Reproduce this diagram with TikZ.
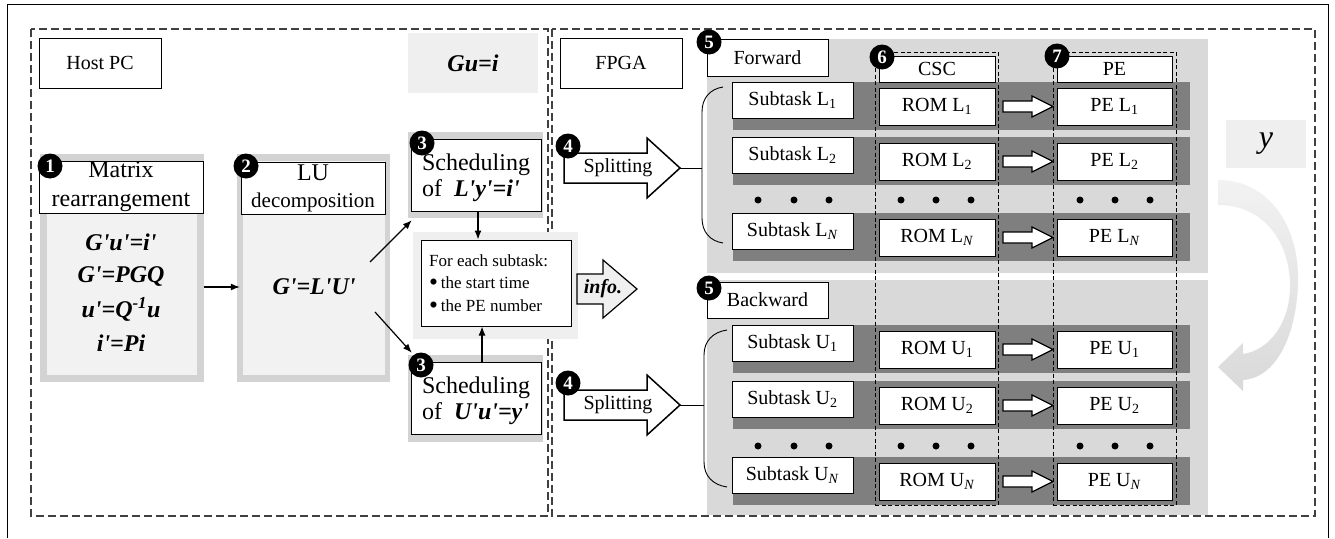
\documentclass[tikz,border=0pt]{standalone}
\usepackage{fontspec}
\setmainfont{Liberation Serif}
\usetikzlibrary{arrows.meta,calc}
\definecolor{panel}{HTML}{D9D9D9}
\definecolor{strip}{HTML}{7F7F7F}
\definecolor{shell}{HTML}{D3D3D3}
\definecolor{innerc}{HTML}{F2F2F2}
\definecolor{soft}{HTML}{EFEFEF}
\definecolor{dashc}{HTML}{404040}
\newcommand\bi[1]{\textbf{\textit{#1}}}
\newcommand\pr{\textquotesingle}
\newcommand\bul{\raisebox{-2pt}[0pt][0pt]{\scalebox{1.5}{\textbullet}}}
% block arrow: options, x0, x1, xhead, yc, half body, half head
\newcommand\blockarr[7]{\draw[#1] (#2,{#5-#6}) -- (#4,{#5-#6}) -- (#4,{#5-#7}) -- (#3,#5) -- (#4,{#5+#7}) -- (#4,{#5+#6}) -- (#2,{#5+#6}) -- cycle;}
\tikzset{
  wbox/.style={draw, fill=white, line width=1pt, inner sep=0pt, align=center},
  flat/.style={inner sep=0pt, draw=none},
  num/.style={circle, fill=black, text=white, minimum size=25pt, inner sep=0pt, font=\fontsize{19}{19}\selectfont\bfseries},
  region/.style={draw=dashc, line width=1.3pt, dash pattern=on 8pt off 4pt},
  colbox/.style={draw=black, line width=0.8pt, dash pattern=on 4pt off 2.5pt, inner sep=0pt},
  arr/.style={line width=1.2pt, -{Latex[length=9pt,width=7pt]}},
  f20/.style={font=\fontsize{20}{24}\selectfont},
  f24/.style={font=\fontsize{24}{29}\selectfont},
  f17/.style={font=\fontsize{17}{20}\selectfont, inner sep=0pt, anchor=base west},
  dotc/.style={circle, fill=black, minimum size=7pt, inner sep=0pt},
}
\begin{document}
\begin{tikzpicture}[x=1pt,y=-1pt]
\useasboundingbox (0,0) rectangle (1335,538);
% outer frame
\draw[line width=0.8pt] (7,538) -- (7,4) -- (1328,4) -- (1328,538);
% regions
\draw[region] (31,29) rectangle (548,516);
\draw[region] (552,29) rectangle (1315,516);
\node[wbox, f20, minimum width=122pt, minimum height=50pt] (hostpc) at (100,63) {Host PC};
\node[flat, fill=soft, minimum width=130pt, minimum height=60pt, f24] (gui) at (473,63) {\bi{Gu=i}};
\node[wbox, f20, minimum width=122pt, minimum height=50pt] (fpga) at (621,63) {FPGA};

% box 1
\node[flat, fill=shell, minimum width=164pt, minimum height=228pt] (b1g) at (122,268) {};
\node[flat, fill=innerc, minimum width=150pt, minimum height=214pt] (b1i) at (122,268) {};
\node[wbox, f24, minimum width=164pt, minimum height=52pt] (b1t) at (121,187) {Matrix\\rearrangement};
\node[f24] (e1) at (121,242) {\bi{G\pr u\pr=i\pr}};
\node[f24] (e2) at (121,276) {\bi{G\pr=PGQ}};
\node[f24] (e3) at (121,309) {\bi{u\pr=Q\textsuperscript{-1}u}};
\node[f24] (e4) at (121,343) {\bi{i\pr=Pi}};

% box 2
\node[flat, fill=shell, minimum width=153pt, minimum height=228pt] (b2g) at (313.5,268) {};
\node[flat, fill=innerc, minimum width=142pt, minimum height=214pt] (b2i) at (314,268) {};
\node[wbox, font=\fontsize{21}{27}\selectfont, minimum width=144pt, minimum height=52pt] (b2t) at (313,188) {{\fontsize{24}{27}\selectfont LU}\\decomposition};
\node[f24] (e5) at (314,287) {\bi{G\pr=L\pr U\pr}};
\draw[arr] (b1g.east |- e5) -- ([xshift=3pt]b2g.west |- e5);

% scheduling boxes
\node[flat, fill=shell, minimum width=135pt, minimum height=86pt] (sLg) at (475.5,175) {};
\node[wbox, minimum width=130pt, minimum height=72pt] (sL) at (476,175) {};
\node[align=left, inner sep=0pt, font=\fontsize{24}{26}\selectfont] (sLt) at (476,178) {Scheduling\\of\ \ \bi{L\pr y\pr=i\pr}};
\node[flat, fill=soft, minimum width=165pt, minimum height=107pt] (infog) at (495.5,285.5) {};
\node[wbox, minimum width=150pt, minimum height=86pt] (info) at (496,283) {};
\node[f17] (info1) at (429,266) {For each subtask:};
\node[f17] (info2) at (429,288) {\bul\,the start time};
\node[f17] (info3) at (429,311) {\bul\,the PE number};
\node[flat, fill=shell, minimum width=135pt, minimum height=87pt] (sUg) at (475.5,398.5) {};
\node[wbox, minimum width=130pt, minimum height=72pt] (sU) at (476,398) {};
\node[align=left, inner sep=0pt, font=\fontsize{24}{26}\selectfont] (sUt) at (476,401) {Scheduling\\of\ \ \bi{U\pr u\pr=y\pr}};

\coordinate (d1) at (370,262);
\coordinate (d2) at (375,312);
\draw[arr] (d1) -- ([xshift=4pt,yshift=-2pt]sLg.south west);
\draw[arr] (d2) -- ([xshift=4pt,yshift=2pt]sUg.north west);
\draw[arr] ([xshift=2pt]sL.south) -- ([xshift=2pt]sL.south |- info.north);
\draw[arr] ([xshift=6pt]sU.north) -- ([xshift=6pt]sU.north |- info.south);

% info arrow
\blockarr{line width=1.2pt, fill=soft}{577}{637}{603}{289}{15}{29}
\node[font=\fontsize{20}{24}\selectfont] (infot) at (603,289) {\bi{info.}};

% splitting arrows
\blockarr{line width=1.5pt, fill=white}{564}{680}{647}{168}{15}{30}
\node[f20] (sp1) at (618,168) {Splitting};
\blockarr{line width=1.5pt, fill=white}{564}{680}{647}{405}{15}{30}
\node[f20] (sp2) at (618,405) {Splitting};
\coordinate (sp1tip) at (680,168);
\coordinate (sp2tip) at (680,405);

% panels
\node[flat, fill=panel, minimum width=501pt, minimum height=234pt] (fwdp) at (957.5,156) {};
\node[flat, fill=panel, minimum width=501pt, minimum height=235pt] (bwdp) at (957.5,397.5) {};
\node[wbox, f20, minimum width=121pt, minimum height=37pt] (fwd) at (767.5,57.5) {Forward};
\node[wbox, f20, minimum width=121pt, minimum height=36pt] (bwd) at (767.5,300) {Backward};

% braces
\draw[line width=0.9pt] (723,87) .. controls (710,89) and (702,98) .. (702,112) -- (702,218) .. controls (702,232) and (710,241) .. (723,243);
\draw[line width=0.9pt] (sp1tip) -- (702,168);
\draw[line width=0.9pt] (727,330) .. controls (713,332) and (704,341) .. (704,355) -- (704,462) .. controls (704,476) and (713,485) .. (727,487);
\draw[line width=0.9pt] (sp2tip) -- (704,405);

% strips
\foreach \t/\nm in {82/fa,137/fb,213/fc,325/ba,381/bb,457/bc}{
  \node[flat, fill=strip, minimum width=457pt, minimum height=48pt] (strip\nm) at (961.5,\t+24) {};
}
% columns
\node[colbox, minimum width=123pt, minimum height=453pt] (csccol) at (936.5,278.5) {};
\node[colbox, minimum width=123pt, minimum height=453pt] (pecol) at (1114.5,278.5) {};
\node[wbox, f20, minimum width=116pt, minimum height=26pt] (csch) at (937,69) {CSC};
\node[wbox, f20, minimum width=115pt, minimum height=26pt] (peh) at (1114.5,69) {PE};

% rows
\foreach \t/\nm/\lab in {82/fa/L\textsubscript{1},137/fb/L\textsubscript{2},213/fc/L\textsubscript{\textit{N}},325/ba/U\textsubscript{1},381/bb/U\textsubscript{2},457/bc/U\textsubscript{\textit{N}}}{
  \node[wbox, f20, minimum width=121pt, minimum height=36pt] (sub\nm) at (792.5,\t+18) {Subtask \lab};
  \node[wbox, f20, minimum width=116pt, minimum height=37pt] (rom\nm) at (937,\t+24.5) {ROM \lab};
  \node[wbox, f20, minimum width=115pt, minimum height=37pt] (pe\nm) at (1114.5,\t+24.5) {PE \lab};
  \blockarr{line width=1.2pt, fill=white}{1003}{1053}{1032}{\t+24.5}{5.5}{10.5}
}
% dots
\foreach \y/\nm in {200/f,446/b}{
  \foreach \x/\k in {758/1,794/2,829/3,901/4,936/5,971/6,1080/7,1115/8,1150/9}{
    \node[dotc] (dot\nm\k) at (\x,\y) {};
  }
}

% y box and curved arrow
\node[flat, fill=soft, minimum width=80pt, minimum height=48pt, font=\fontsize{32}{32}\selectfont] (ybox) at (1266,144) {\textit{y}};
\shade[top color=innerc, bottom color=panel] (1218,180) .. controls (1268,180) and (1300,225) .. (1298,284) .. controls (1296,338) and (1275,378) .. (1243,380) -- (1243,391) -- (1218,367) -- (1243,343) -- (1243,354) .. controls (1270,350) and (1290,322) .. (1290,286) .. controls (1290,240) and (1262,205) .. (1218,205) -- cycle;

% numbers
\node[num] (n1) at (50,166) {1};
\node[num] (n2) at (246,166) {2};
\node[num] (n3a) at (422,143) {3};
\node[num] (n3b) at (421,365) {3};
\node[num] (n4a) at (568,146) {4};
\node[num] (n4b) at (568,383) {4};
\node[num] (n5a) at (709,42) {5};
\node[num] (n5b) at (709,288) {5};
\node[num] (n6) at (882,57) {6};
\node[num] (n7) at (1057,56) {7};
\end{tikzpicture}
\end{document}
